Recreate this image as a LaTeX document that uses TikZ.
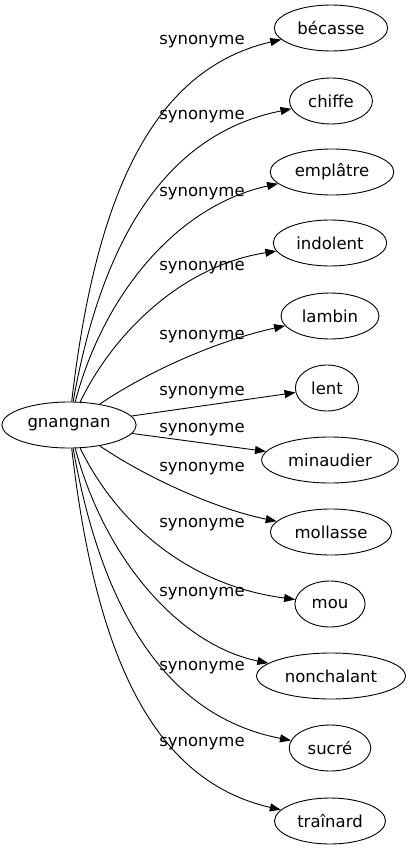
\documentclass[tikz,border=0pt]{standalone}
\usepackage{fontspec}
\setmainfont{DejaVu Sans}
\usetikzlibrary{shapes.geometric,arrows.meta}

\begin{document}
\begin{tikzpicture}[x=1pt,y=-1pt,line width=0.9pt,>={Triangle[length=11pt,width=8pt]},word/.style={draw,ellipse,minimum height=46pt,inner xsep=6.5pt,inner ysep=2pt,font=\fontsize{16.5}{19}\selectfont},lab/.style={font=\fontsize{16.5}{19}\selectfont}]
\useasboundingbox (0,0) rectangle (407,851);
\node[word,inner xsep=6pt] (g) at (69,425) {gnangnan};
\foreach \i/\x/\y/\w in {1/331/28/bécasse,2/331/101/chiffe,3/332/172/emplâtre,4/330/243/indolent,5/330/316/lambin,6/327/388/lent,7/330/460/minaudier,8/331/532/mollasse,9/330/604/mou,10/331/676/nonchalant,11/330/748/sucré,12/330/821/traînard}{\node[word] (s\i) at (\x,\y) {\w};};
\foreach \i/\y in {1/42,2/117,3/194,4/268,5/337,6/393,7/430,8/469,9/525,10/594,11/668,12/744}{\node[lab] (l\i) at (202,\y) {synonyme};};
\draw[->] (g) .. controls (95,200) and (150,70) .. (s1);
\draw[->] (g) .. controls (100,250) and (160,135) .. (s2);
\draw[->] (g) .. controls (105,290) and (180,205) .. (s3);
\draw[->] (g) .. controls (115,330) and (185,265) .. (s4);
\draw[->] (g) .. controls (150,370) and (220,340) .. (s5);
\draw[->] (g) -- (s6);
\draw[->] (g) -- (s7);
\draw[->] (g) .. controls (150,480) and (220,510) .. (s8);
\draw[->] (g) .. controls (115,520) and (185,585) .. (s9);
\draw[->] (g) .. controls (105,560) and (180,645) .. (s10);
\draw[->] (g) .. controls (100,600) and (160,715) .. (s11);
\draw[->] (g) .. controls (95,650) and (150,780) .. (s12);
\end{tikzpicture}
\end{document}
